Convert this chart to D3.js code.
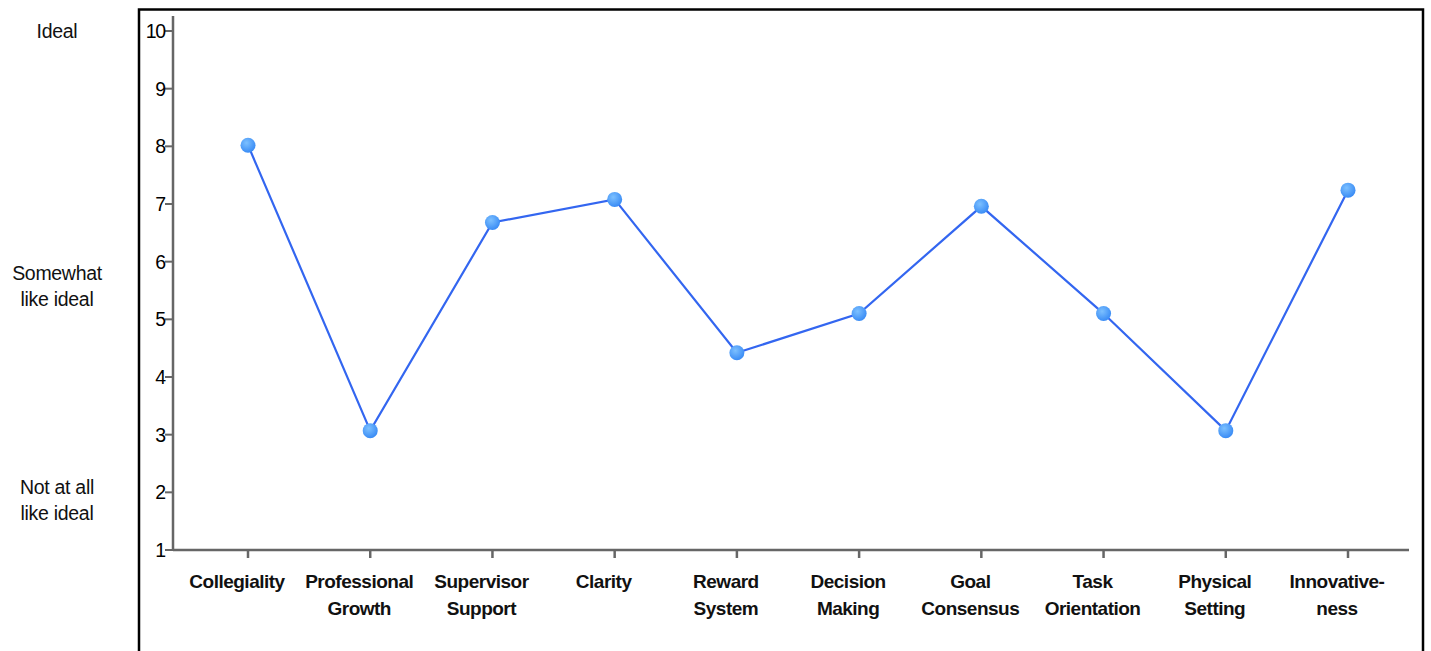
<!DOCTYPE html>
<html>
<head>
<meta charset="utf-8">
<script src="https://cdn.jsdelivr.net/npm/d3@7"></script>
<style>
body { margin: 0; background: #fff; }
svg { font-family: "Liberation Sans", Arial, sans-serif; }
</style>
</head>
<body>
<div id="chart"></div>
<script>
var categories = [["Collegiality"], ["Professional", "Growth"], ["Supervisor", "Support"], ["Clarity"],
                  ["Reward", "System"], ["Decision", "Making"], ["Goal", "Consensus"], ["Task", "Orientation"],
                  ["Physical", "Setting"], ["Innovative-", "ness"]];
var values     = [8.02, 3.07, 6.68, 7.08, 4.42, 5.1, 6.96, 5.1, 3.07, 7.24];
var yTicks     = [1, 2, 3, 4, 5, 6, 7, 8, 9, 10];
var sideLabels = [{v: 10, lines: ["Ideal"]}, {v: 5.8, lines: ["Somewhat", "like ideal"]}, {v: 2.1, lines: ["Not at all", "like ideal"]}];

var width = 1431, height = 651;
var svg = d3.select("#chart").append("svg").attr("width", width).attr("height", height);

var defs = svg.append("defs");
var grad = defs.append("radialGradient").attr("id", "dot").attr("cx", "40%").attr("cy", "35%").attr("r", "65%");
grad.append("stop").attr("offset", "0%").attr("stop-color", "#7cc0ff");
grad.append("stop").attr("offset", "100%").attr("stop-color", "#3a8cf5");

// outer frame
svg.append("rect").attr("x", 139).attr("y", 9.5).attr("width", 1284).attr("height", 660)
   .attr("fill", "none").attr("stroke", "#000").attr("stroke-width", 2.5);

var margin = {left: 173, top: 31, right: 1409, bottom: 550};

var y = d3.scaleLinear().domain([1, 10]).range([margin.bottom, margin.top]);
var x = d3.scalePoint().domain(d3.range(categories.length)).range([248, 1348]);

// axes
svg.append("line").attr("x1", margin.left).attr("x2", margin.left).attr("y1", 16).attr("y2", margin.bottom)
   .attr("stroke", "#666").attr("stroke-width", 2.5);
svg.append("line").attr("x1", margin.left).attr("x2", margin.right).attr("y1", margin.bottom).attr("y2", margin.bottom)
   .attr("stroke", "#666").attr("stroke-width", 2.5);

var yg = svg.append("g");
yg.selectAll("line").data(yTicks).enter().append("line")
  .attr("x1", margin.left - 8).attr("x2", margin.left).attr("y1", function(d){return y(d);}).attr("y2", function(d){return y(d);})
  .attr("stroke", "#666").attr("stroke-width", 2);
yg.selectAll("text").data(yTicks).enter().append("text")
  .attr("x", margin.left - 8).attr("y", function(d){return y(d) + 7;})
  .attr("text-anchor", "end").attr("font-size", 19.5).attr("letter-spacing", -1.2).text(function(d){return d;});

var xg = svg.append("g");
xg.selectAll("line").data(categories).enter().append("line")
  .attr("x1", function(d, i){return x(i);}).attr("x2", function(d, i){return x(i);})
  .attr("y1", margin.bottom).attr("y2", margin.bottom + 8)
  .attr("stroke", "#666").attr("stroke-width", 2.5);
xg.selectAll("text").data(categories).enter().append("text")
  .attr("x", function(d, i){return x(i) - 11;}).attr("y", 588)
  .attr("text-anchor", "middle").attr("font-size", 19).attr("font-weight", "bold").attr("fill", "#111")
  .attr("letter-spacing", -0.5)
  .each(function(d) {
      var t = d3.select(this);
      d.forEach(function(s, j) {
          t.append("tspan").attr("x", t.attr("x")).attr("dy", j === 0 ? 0 : 26.5).text(s);
      });
  });

// left descriptive labels
svg.selectAll("text.side").data(sideLabels).enter().append("text").attr("class", "side")
   .attr("x", 57).attr("y", function(d){return y(d.v) + 7;})
   .attr("text-anchor", "middle").attr("font-size", 19.5).attr("fill", "#111").attr("letter-spacing", -0.3)
   .each(function(d) {
       var t = d3.select(this);
       d.lines.forEach(function(s, j) {
           t.append("tspan").attr("x", 57).attr("dy", j === 0 ? 0 : 26).text(s);
       });
   });

// series
var line = d3.line().x(function(d, i){return x(i);}).y(function(d){return y(d);});
svg.append("path").attr("d", line(values)).attr("fill", "none").attr("stroke", "#3366f0").attr("stroke-width", 2.2);

svg.selectAll("circle").data(values).enter().append("circle")
   .attr("cx", function(d, i){return x(i);}).attr("cy", function(d){return y(d);}).attr("r", 7.5)
   .attr("fill", "url(#dot)");
</script>
</body>
</html>
